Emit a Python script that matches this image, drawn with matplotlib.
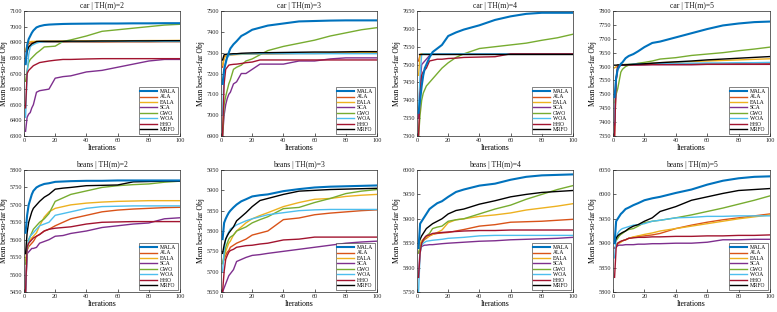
import matplotlib
matplotlib.use("Agg")
import matplotlib.pyplot as plt

plt.rcParams['font.family'] = ['Liberation Serif', 'DejaVu Serif']

# shared iteration grid
ITER = [1, 2, 3, 4, 5, 6, 8, 10, 13, 16, 20, 25, 30, 40, 50, 60, 70, 80, 90, 100]
ALGOS = ["MALA", "ALA", "EALA", "SCA", "GWO", "WOA", "HHO", "MRFO"]
COLORS = ["#0072BD", "#D95319", "#EDB120", "#7E2F8E", "#77AC30", "#4DBEEE", "#A2142F", "#000000"]

# ---- car | TH(m)=2
car2_MALA = [6760,6880,6920,6940,6960,6975,6995,7003,7010,7013,7015,7017,7018,7019,7020,7020,7021,7021,7022,7022]
car2_ALA  = [6840,6870,6890,6895,6897,6898,6899,6900,6900,6900,6900,6900,6901,6901,6901,6902,6902,6902,6903,6903]
car2_EALA = [6850,6880,6900,6903,6905,6905,6906,6906,6907,6907,6907,6908,6908,6909,6909,6910,6910,6911,6911,6912]
car2_SCA  = [6330,6420,6440,6450,6480,6500,6580,6590,6595,6600,6670,6680,6685,6710,6720,6740,6760,6780,6790,6790]
car2_GWO  = [6650,6720,6770,6790,6800,6810,6830,6845,6870,6872,6875,6905,6915,6940,6970,6980,6990,7000,7010,7015]
car2_WOA  = [6420,6700,6820,6870,6880,6885,6895,6900,6902,6903,6903,6904,6904,6904,6905,6905,6905,6905,6905,6905]
car2_HHO  = [6480,6700,6720,6730,6740,6750,6760,6770,6775,6780,6785,6790,6790,6793,6795,6795,6795,6795,6795,6795]
car2_MRFO = [6760,6840,6870,6880,6890,6895,6905,6906,6906,6906,6906,6906,6907,6907,6908,6908,6909,6909,6910,6910]

# ---- car | TH(m)=3
car3_MALA = [7150,7220,7250,7280,7300,7320,7340,7355,7380,7392,7410,7420,7430,7440,7450,7452,7454,7455,7455,7455]
car3_ALA  = [7230,7280,7285,7288,7290,7290,7291,7292,7292,7293,7293,7294,7294,7295,7296,7296,7297,7298,7299,7300]
car3_EALA = [7240,7270,7285,7287,7288,7289,7290,7291,7292,7293,7294,7295,7295,7296,7297,7297,7298,7299,7300,7300]
car3_SCA  = [6900,7000,7050,7080,7100,7110,7150,7160,7200,7200,7220,7245,7245,7245,7260,7260,7270,7275,7275,7275]
car3_GWO  = [6900,7050,7090,7120,7150,7170,7220,7230,7240,7260,7270,7290,7310,7330,7345,7360,7380,7395,7410,7420]
car3_WOA  = [7000,7200,7260,7275,7285,7290,7292,7293,7294,7294,7294,7295,7295,7295,7295,7295,7295,7295,7295,7295]
car3_HHO  = [6900,7150,7220,7230,7240,7242,7244,7245,7248,7252,7255,7265,7265,7265,7265,7265,7265,7265,7265,7265]
car3_MRFO = [7265,7290,7292,7293,7294,7294,7295,7295,7297,7298,7299,7300,7300,7301,7302,7303,7303,7304,7305,7305]

# ---- car | TH(m)=4
car4_MALA = [7365,7400,7440,7470,7490,7500,7520,7535,7545,7555,7580,7590,7598,7610,7625,7635,7642,7645,7645,7645]
car4_ALA  = [7510,7528,7529,7530,7530,7530,7530,7530,7530,7530,7530,7530,7530,7530,7530,7530,7530,7530,7530,7530]
car4_EALA = [7470,7528,7530,7530,7530,7530,7530,7530,7530,7530,7530,7530,7530,7530,7530,7530,7530,7530,7530,7530]
car4_SCA  = [7350,7450,7500,7505,7510,7515,7525,7530,7530,7530,7530,7530,7530,7530,7530,7530,7530,7530,7530,7530]
car4_GWO  = [7300,7360,7400,7420,7430,7440,7450,7460,7475,7490,7505,7520,7530,7545,7550,7555,7560,7568,7575,7585]
car4_WOA  = [7380,7470,7528,7530,7530,7530,7530,7530,7530,7530,7530,7530,7530,7530,7530,7530,7530,7530,7530,7530]
car4_HHO  = [7300,7420,7470,7480,7485,7490,7510,7512,7515,7515,7517,7518,7520,7521,7522,7530,7530,7530,7530,7530]
car4_MRFO = [7530,7530,7530,7530,7530,7530,7530,7530,7530,7530,7530,7530,7530,7530,7530,7530,7530,7530,7530,7530]

# ---- car | TH(m)=5
car5_MALA = [7490,7560,7590,7600,7610,7615,7630,7638,7645,7655,7670,7685,7690,7705,7720,7735,7748,7755,7760,7762]
car5_ALA  = [7350,7550,7600,7603,7605,7605,7606,7606,7607,7607,7607,7608,7608,7609,7610,7610,7611,7611,7612,7612]
car5_EALA = [7595,7600,7605,7606,7607,7607,7608,7608,7609,7609,7610,7612,7614,7616,7618,7620,7622,7624,7626,7628]
car5_SCA  = [7390,7550,7600,7603,7605,7605,7605,7606,7606,7606,7606,7607,7607,7607,7607,7608,7608,7608,7608,7608]
car5_GWO  = [7470,7500,7520,7550,7580,7590,7600,7605,7608,7612,7615,7620,7627,7632,7640,7645,7650,7657,7663,7670]
car5_WOA  = [7400,7560,7590,7600,7605,7606,7607,7608,7609,7610,7610,7611,7611,7612,7612,7613,7613,7614,7614,7615]
car5_HHO  = [7350,7550,7600,7602,7605,7605,7606,7606,7606,7606,7607,7607,7607,7607,7607,7608,7608,7608,7608,7608]
car5_MRFO = [7605,7605,7606,7606,7606,7606,7606,7607,7608,7609,7610,7612,7614,7617,7620,7624,7627,7630,7633,7636]

# ---- beans | TH(m)=2
beans2_MALA = [5620,5670,5700,5715,5730,5740,5750,5755,5760,5762,5766,5767,5768,5769,5769,5770,5770,5770,5770,5770]
beans2_ALA  = [5450,5570,5580,5585,5590,5595,5610,5615,5625,5630,5640,5650,5660,5670,5680,5685,5688,5690,5692,5693]
beans2_EALA = [5540,5570,5590,5600,5605,5610,5620,5640,5665,5680,5690,5695,5700,5705,5708,5710,5711,5712,5712,5712]
beans2_SCA  = [5450,5560,5565,5570,5575,5575,5578,5590,5595,5600,5610,5612,5618,5625,5635,5640,5645,5648,5660,5663]
beans2_GWO  = [5530,5570,5600,5610,5620,5630,5640,5650,5660,5675,5710,5720,5730,5740,5750,5755,5758,5760,5765,5768]
beans2_WOA  = [5450,5570,5600,5610,5615,5620,5630,5640,5645,5650,5670,5675,5680,5690,5695,5696,5697,5697,5697,5697]
beans2_HHO  = [5450,5580,5590,5595,5600,5605,5610,5615,5625,5630,5633,5635,5637,5645,5650,5651,5652,5652,5652,5652]
beans2_MRFO = [5560,5620,5650,5665,5680,5690,5700,5710,5722,5730,5745,5748,5750,5755,5756,5757,5766,5767,5768,5768]

# ---- beans | TH(m)=3
beans3_MALA = [5780,5820,5830,5838,5845,5850,5858,5865,5873,5878,5885,5888,5890,5898,5903,5907,5909,5910,5911,5912]
beans3_ALA  = [5720,5730,5740,5748,5752,5760,5765,5770,5775,5780,5790,5795,5800,5828,5832,5840,5844,5847,5850,5852]
beans3_EALA = [5720,5735,5750,5760,5770,5775,5790,5800,5810,5820,5830,5838,5845,5860,5870,5878,5880,5885,5888,5890]
beans3_SCA  = [5650,5660,5670,5680,5690,5695,5705,5725,5730,5735,5740,5742,5745,5750,5755,5760,5765,5770,5773,5775]
beans3_GWO  = [5720,5740,5760,5770,5780,5785,5790,5800,5805,5810,5820,5828,5835,5855,5858,5870,5880,5892,5898,5902]
beans3_WOA  = [5700,5750,5780,5790,5798,5805,5810,5815,5820,5825,5830,5835,5840,5845,5850,5852,5853,5853,5853,5853]
beans3_HHO  = [5650,5700,5730,5740,5748,5752,5755,5760,5762,5764,5765,5768,5770,5778,5780,5785,5785,5785,5785,5785]
beans3_MRFO = [5745,5765,5780,5788,5795,5800,5810,5825,5835,5845,5860,5875,5880,5890,5898,5900,5902,5903,5904,5905]

# ---- beans | TH(m)=4
beans4_MALA = [5840,5890,5895,5900,5905,5910,5920,5925,5932,5936,5945,5955,5960,5968,5972,5980,5986,5989,5990,5991]
beans4_ALA  = [5830,5840,5850,5855,5858,5860,5865,5868,5870,5871,5872,5875,5878,5885,5888,5893,5894,5895,5897,5899]
beans4_EALA = [5840,5850,5855,5858,5860,5862,5865,5868,5872,5877,5892,5898,5900,5905,5908,5912,5918,5922,5926,5931]
beans4_SCA  = [5780,5840,5843,5845,5846,5846,5847,5847,5848,5849,5850,5851,5852,5854,5855,5857,5858,5859,5860,5862]
beans4_GWO  = [5830,5840,5850,5855,5860,5865,5870,5880,5883,5885,5895,5898,5900,5910,5920,5928,5940,5950,5960,5968]
beans4_WOA  = [5750,5830,5845,5850,5852,5854,5855,5856,5857,5858,5860,5861,5862,5865,5866,5866,5866,5866,5866,5866]
beans4_HHO  = [5780,5830,5850,5857,5862,5865,5867,5870,5871,5872,5873,5874,5875,5876,5876,5877,5877,5877,5877,5877]
beans4_MRFO = [5850,5858,5865,5870,5875,5880,5885,5890,5895,5900,5910,5917,5920,5930,5937,5945,5950,5954,5956,5958]

# ---- beans | TH(m)=5
beans5_MALA = [5900,5945,5950,5955,5960,5963,5970,5973,5978,5982,5988,5992,5995,6003,6010,6020,6028,6033,6036,6037]
beans5_ALA  = [5890,5895,5900,5902,5903,5905,5907,5910,5912,5914,5915,5917,5920,5930,5937,5943,5948,5952,5956,5960]
beans5_EALA = [5890,5893,5898,5900,5902,5905,5907,5910,5913,5915,5918,5921,5925,5930,5935,5940,5945,5950,5954,5958]
beans5_SCA  = [5890,5893,5895,5896,5896,5896,5897,5897,5897,5898,5898,5899,5899,5900,5900,5902,5907,5907,5908,5908]
beans5_GWO  = [5900,5905,5910,5915,5918,5920,5925,5928,5930,5935,5942,5945,5947,5952,5958,5965,5972,5980,5988,5997]
beans5_WOA  = [5870,5910,5920,5925,5928,5930,5932,5934,5937,5938,5940,5945,5947,5952,5953,5955,5955,5956,5956,5956]
beans5_HHO  = [5830,5890,5900,5902,5904,5905,5907,5910,5911,5912,5912,5913,5913,5914,5914,5915,5915,5916,5916,5917]
beans5_MRFO = [5900,5910,5915,5918,5920,5922,5925,5930,5935,5938,5945,5952,5965,5975,5988,5995,6002,6008,6010,6012]

panels = [
    ("car | TH(m)=2", [car2_MALA, car2_ALA, car2_EALA, car2_SCA, car2_GWO, car2_WOA, car2_HHO, car2_MRFO], (6300, 7100, 100)),
    ("car | TH(m)=3", [car3_MALA, car3_ALA, car3_EALA, car3_SCA, car3_GWO, car3_WOA, car3_HHO, car3_MRFO], (6900, 7500, 100)),
    ("car | TH(m)=4", [car4_MALA, car4_ALA, car4_EALA, car4_SCA, car4_GWO, car4_WOA, car4_HHO, car4_MRFO], (7300, 7650, 50)),
    ("car | TH(m)=5", [car5_MALA, car5_ALA, car5_EALA, car5_SCA, car5_GWO, car5_WOA, car5_HHO, car5_MRFO], (7350, 7800, 50)),
    ("beans | TH(m)=2", [beans2_MALA, beans2_ALA, beans2_EALA, beans2_SCA, beans2_GWO, beans2_WOA, beans2_HHO, beans2_MRFO], (5450, 5800, 50)),
    ("beans | TH(m)=3", [beans3_MALA, beans3_ALA, beans3_EALA, beans3_SCA, beans3_GWO, beans3_WOA, beans3_HHO, beans3_MRFO], (5650, 5950, 50)),
    ("beans | TH(m)=4", [beans4_MALA, beans4_ALA, beans4_EALA, beans4_SCA, beans4_GWO, beans4_WOA, beans4_HHO, beans4_MRFO], (5750, 6000, 50)),
    ("beans | TH(m)=5", [beans5_MALA, beans5_ALA, beans5_EALA, beans5_SCA, beans5_GWO, beans5_WOA, beans5_HHO, beans5_MRFO], (5800, 6050, 50)),
]

W, H = 777, 312
fig = plt.figure(figsize=(W / 100, H / 100), dpi=100)

lefts = [24, 221, 417, 613]
widths = [156, 156, 156, 157]
tops = [11, 170]
heights = [125, 122]

for idx, (title, series, (ymin, ymax, step)) in enumerate(panels):
    r, c = divmod(idx, 4)
    ax = fig.add_axes([lefts[c] / W, 1 - (tops[r] + heights[r]) / H, widths[c] / W, heights[r] / H])
    for k, (name, col, vals) in enumerate(zip(ALGOS, COLORS, series)):
        lw = 1.5 if name == "MALA" else 1.0
        ax.plot(ITER, vals, color=col, lw=lw, label=name, zorder=3 if name == "MALA" else 2)
    ax.set_xlim(0, 100)
    ax.set_ylim(ymin, ymax)
    ax.set_xticks([0, 20, 40, 60, 80, 100])
    yt = list(range(ymin, ymax + 1, step))
    ax.set_yticks(yt)
    ax.tick_params(direction='in', length=2, width=0.5, labelsize=4.5, pad=1.5, colors='#262626')
    for s in ax.spines.values():
        s.set_linewidth(0.5)
        s.set_color('#262626')
    ax.set_title(title, fontsize=5.5, pad=2, color='#1a1a1a')
    ax.set_xlabel("Iterations", fontsize=5.5, labelpad=1)
    ax.set_ylabel("Mean best-so-far Obj", fontsize=5.5, labelpad=1)
    leg = ax.legend(loc='lower right', fontsize=4.0, frameon=True, fancybox=False,
                    edgecolor='#262626', handlelength=3.0, handletextpad=0.5,
                    labelspacing=0.08, borderpad=0.3, borderaxespad=0.4)
    leg.get_frame().set_linewidth(0.5)

fig.savefig("out.png", dpi=100)
